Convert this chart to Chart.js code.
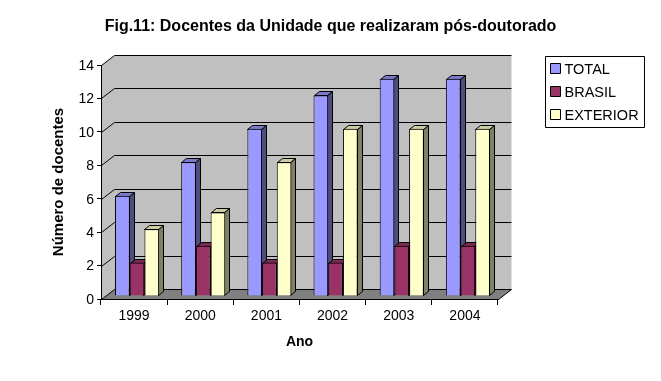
<!DOCTYPE html>
<html>
<head>
<meta charset="utf-8">
<title>Fig.11</title>
<style>
html, body { margin: 0; padding: 0; background: #fff; }
canvas { display: block; }
</style>
<script src="https://cdn.jsdelivr.net/npm/chart.js@4/dist/chart.umd.min.js"></script>
</head>
<body>
<canvas id="chart" width="661" height="381"></canvas>
<script>
// chart data
const years = ['1999', '2000', '2001', '2002', '2003', '2004'];
const total = [6, 8, 10, 12, 13, 13];
const brasil = [2, 3, 2, 2, 3, 3];
const exterior = [4, 5, 8, 10, 10, 10];

const frontColors = ['#9999ff', '#993366', '#ffffcc'];
const topColors = ['#7a7acc', '#7a2952', '#cccca3'];
const sideColors = ['#4d4d80', '#4d1a33', '#808066'];

// depth of the box and of the bars, in pixels
const boxDx = 13, boxDy = 10;
const barDx = 5, barDy = 4;
const barShiftX = 3, barShiftY = -3;

function poly(ctx, pts, fill) {
    ctx.beginPath();
    pts.forEach((p, i) => i ? ctx.lineTo(p[0], p[1]) : ctx.moveTo(p[0], p[1]));
    ctx.closePath();
    if (fill) {
        ctx.fillStyle = fill;
        ctx.fill();
    }
    ctx.lineWidth = 1;
    ctx.strokeStyle = '#000';
    ctx.stroke();
}

// back wall, left wall, floor and the 3d grid lines
const box3d = {
    id: 'box3d',
    // the title is centred on the whole canvas, not on the space left of the legend
    afterLayout(chart) {
        chart.titleBlock.left = 0;
        chart.titleBlock.right = chart.width;
    },
    beforeDraw(chart) {
        const { ctx, chartArea: a, scales } = chart;
        const l = a.left + 0.5, r = a.right + 0.5, t = a.top + 0.5, b = a.bottom + 0.5;
        ctx.save();
        ctx.fillStyle = '#c0c0c0';
        ctx.beginPath();
        ctx.moveTo(l, b);
        ctx.lineTo(l, t);
        ctx.lineTo(l + boxDx, t - boxDy);
        ctx.lineTo(r + boxDx, t - boxDy);
        ctx.lineTo(r + boxDx, b - boxDy);
        ctx.lineTo(l + boxDx, b - boxDy);
        ctx.closePath();
        ctx.fill();
        poly(ctx, [[l, b], [l + boxDx, b - boxDy], [r + boxDx, b - boxDy], [r, b]], '#808080');
        ctx.lineWidth = 1;
        ctx.strokeStyle = '#000';
        scales.y.ticks.forEach(tick => {
            if (tick.value === 0) return;
            const y = Math.round(scales.y.getPixelForValue(tick.value)) + 0.5;
            ctx.beginPath();
            ctx.moveTo(l, y);
            ctx.lineTo(l + boxDx, y - boxDy);
            ctx.lineTo(r + boxDx, y - boxDy);
            ctx.stroke();
        });
        ctx.restore();
    },
    // tops and sides go first, the library then paints the front faces over them
    beforeDatasetsDraw(chart) {
        const { ctx } = chart;
        ctx.save();
        ctx.translate(barShiftX, barShiftY);
        chart.data.datasets.forEach((ds, i) => {
            chart.getDatasetMeta(i).data.forEach(bar => {
                const x0 = Math.round(bar.x - bar.width / 2) + 0.5;
                const x1 = Math.round(bar.x + bar.width / 2) - 0.5;
                const y0 = Math.round(bar.y) + 0.5;
                const y1 = Math.round(bar.base) - 0.5;
                poly(ctx, [[x1, y0], [x1 + barDx, y0 - barDy], [x1 + barDx, y1 - barDy], [x1, y1]], sideColors[i]);
                poly(ctx, [[x0, y0], [x0 + barDx, y0 - barDy], [x1 + barDx, y0 - barDy], [x1, y0]], topColors[i]);
            });
        });
    },
    afterDatasetsDraw(chart) {
        chart.ctx.restore();
    }
};

// legend box on the right
const legendBox = {
    id: 'legendBox',
    afterDraw(chart) {
        const { ctx } = chart;
        ctx.save();
        poly(ctx, [[545.5, 56.5], [644.5, 56.5], [644.5, 127.5], [545.5, 127.5]], '#fff');
        ctx.font = '14.5px "Liberation Sans"';
        ctx.textBaseline = 'middle';
        chart.data.datasets.forEach((ds, i) => {
            const y = 69 + i * 23;
            poly(ctx, [[550.5, y - 5.5], [560.5, y - 5.5], [560.5, y + 4.5], [550.5, y + 4.5]], frontColors[i]);
            ctx.fillStyle = '#000';
            ctx.fillText(ds.label, 564.5, y + 1);
        });
        ctx.restore();
    }
};

new Chart(document.getElementById('chart').getContext('2d'), {
    type: 'bar',
    data: {
        labels: years,
        datasets: [
            { label: 'TOTAL', data: total, backgroundColor: frontColors[0] },
            { label: 'BRASIL', data: brasil, backgroundColor: frontColors[1] },
            { label: 'EXTERIOR', data: exterior, backgroundColor: frontColors[2] }
        ].map(ds => ({ ...ds, borderColor: '#000', borderWidth: 1, categoryPercentage: 44 / 66, barPercentage: 1 }))
    },
    options: {
        responsive: false,
        animation: false,
        layout: { padding: { left: 0, right: 163, top: 0, bottom: 0 } },
        plugins: {
            legend: { display: false },
            tooltip: { enabled: false },
            title: {
                display: true,
                text: 'Fig.11: Docentes da Unidade que realizaram pós-doutorado',
                color: '#000',
                font: { family: '"Liberation Sans"', size: 16, weight: 'bold', lineHeight: 1.2 },
                padding: { top: 17.4, bottom: 28.4 }
            }
        },
        scales: {
            x: {
                afterFit(scale) { scale.height = 82; },
                grid: { drawOnChartArea: false, tickLength: 6, tickColor: '#000' },
                border: { color: '#000', width: 1 },
                ticks: { color: '#000', font: { family: '"Liberation Sans"', size: 14 }, padding: 3, maxRotation: 0 },
                title: {
                    display: true,
                    text: 'Ano',
                    color: '#000',
                    font: { family: '"Liberation Sans"', size: 14, weight: 'bold' },
                    padding: { top: 0, bottom: 30 }
                }
            },
            y: {
                min: 0,
                max: 14,
                afterFit(scale) { scale.width = 101; },
                grid: { drawOnChartArea: false, tickLength: 4, tickColor: '#000' },
                border: { color: '#000', width: 1 },
                ticks: { stepSize: 2, color: '#000', font: { family: '"Liberation Sans"', size: 14 }, padding: 3, labelOffset: 1 },
                title: {
                    display: true,
                    text: 'Número de docentes',
                    color: '#000',
                    font: { family: '"Liberation Sans"', size: 15, weight: 'bold' },
                    padding: { top: 50, bottom: 0 }
                }
            }
        }
    },
    plugins: [box3d, legendBox]
});
</script>
</body>
</html>
